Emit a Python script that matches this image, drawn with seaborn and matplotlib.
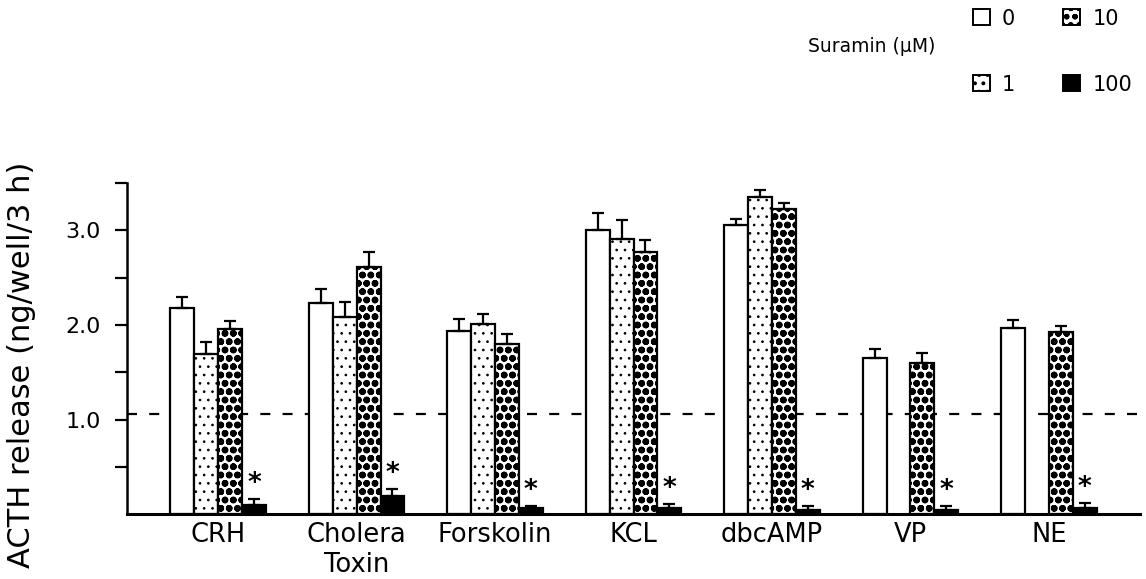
import numpy as np
import pandas as pd
import matplotlib
matplotlib.use("Agg")
import matplotlib.pyplot as plt
import matplotlib.patches as mpatches
import seaborn as sns

# ---- data ----
categories = ["CRH", "Cholera\nToxin", "Forskolin", "KCL", "dbcAMP", "VP", "NE"]
doses = ["0", "1", "10", "100"]
mean_0 = [2.18, 2.23, 1.94, 3.00, 3.06, 1.65, 1.97]
mean_1 = [1.69, 2.08, 2.01, 2.91, 3.35, np.nan, np.nan]
mean_10 = [1.96, 2.61, 1.80, 2.77, 3.22, 1.60, 1.93]
mean_100 = [0.10, 0.19, 0.06, 0.06, 0.04, 0.04, 0.07]
sem_0 = [0.11, 0.15, 0.12, 0.18, 0.06, 0.10, 0.08]
sem_1 = [0.13, 0.16, 0.10, 0.20, 0.08, np.nan, np.nan]
sem_10 = [0.08, 0.16, 0.10, 0.13, 0.07, 0.10, 0.06]
sem_100 = [0.06, 0.08, 0.03, 0.05, 0.05, 0.05, 0.05]
control_level = 1.06
yticks_major = [1.0, 2.0, 3.0]
yticks_minor = [0.5, 1.5, 2.5, 3.5]

means = {"0": mean_0, "1": mean_1, "10": mean_10, "100": mean_100}
sems = {"0": sem_0, "1": sem_1, "10": sem_10, "100": sem_100}
rows = []
for d in doses:
    for c, m, s in zip(categories, means[d], sems[d]):
        rows.append({"stim": c, "dose": d, "mean": m, "sem": s})
df = pd.DataFrame(rows)

sns.set_theme(style="ticks")
plt.rcParams["font.family"] = ["DejaVu Sans"]
plt.rcParams["text.color"] = "black"
plt.rcParams["xtick.color"] = "black"
plt.rcParams["ytick.color"] = "black"
plt.rcParams["xtick.labelcolor"] = "black"
plt.rcParams["ytick.labelcolor"] = "black"
plt.rcParams["hatch.linewidth"] = 1.6

fig = plt.figure(figsize=(11.46, 5.79), dpi=100)
ax = fig.add_axes([0.111, 0.112, 0.884, 0.572])

palette = {"0": "white", "1": "white", "10": "white", "100": "black"}
sns.barplot(data=df, x="stim", y="mean", hue="dose", hue_order=doses,
            order=categories, palette=palette, errorbar=None, width=0.69,
            gap=0, dodge=True, edgecolor="black", linewidth=1.6,
            legend=False, ax=ax, zorder=2)

hatches = {"0": "", "1": "..", "10": "oo", "100": ""}
hatch_lw = {"0": 1.0, "1": 0.7, "10": 2.4, "100": 1.0}


def style_patch(p, d):
    p.set_hatch(hatches[d])
    try:
        p.set_hatch_linewidth(hatch_lw[d])
    except Exception:
        pass


patches = [p for p in ax.patches]
k = 0
bar_info = []
for d in doses:
    for i, c in enumerate(categories):
        m = means[d][i]
        if np.isnan(m):
            continue
        p = patches[k]
        k += 1
        style_patch(p, d)
        xc = p.get_x() + p.get_width() / 2
        bar_info.append((xc, m, sems[d][i], d))

for xc, m, s, d in bar_info:
    ax.errorbar([xc], [m], yerr=[[0], [s]], fmt="none", ecolor="black",
                elinewidth=1.6, capsize=4.5, capthick=1.6, zorder=3)
    if d == "100":
        ax.text(xc, m + s + 0.02, "*", ha="center", va="bottom",
                fontsize=19, fontweight="bold", color="black")

ax.axhline(control_level, color="black", lw=1.6, ls=(0, (4.5, 5.5)), zorder=1)

ax.set_ylim(0, 3.5)
ax.set_xlim(-0.657, 6.66)
ax.set_yticks(yticks_major)
ax.set_yticklabels(["1.0", "2.0", "3.0"])
ax.set_yticks(yticks_minor, minor=True)
ax.tick_params(axis="y", which="both", direction="out", length=9, width=1.6,
               pad=10, labelsize=16, color="black", labelcolor="black")
ax.tick_params(axis="x", length=0, labelsize=18.5, pad=6, labelcolor="black")
ax.set_xlabel("")
ax.set_ylabel("")
for side in ["top", "right"]:
    ax.spines[side].set_visible(False)
ax.spines["left"].set_linewidth(1.8)
ax.spines["bottom"].set_linewidth(2.2)
ax.spines["left"].set_color("black")
ax.spines["bottom"].set_color("black")
ax.patch.set_alpha(0)

fig.text(0.019, 0.37, "ACTH release (ng/well/3 h)", rotation=90,
         ha="center", va="center", fontsize=22, color="black")

handles = []
for d in doses:
    h = mpatches.Patch(facecolor=palette[d], edgecolor="black",
                       hatch=hatches[d], linewidth=1.4)
    try:
        h.set_hatch_linewidth(hatch_lw[d])
    except Exception:
        pass
    handles.append(h)
fig.legend(handles, doses, ncol=2, loc="upper left",
           bbox_to_anchor=(0.849, 0.985), frameon=False, fontsize=15,
           handlelength=0.8, handleheight=0.8, handletextpad=0.6,
           labelspacing=2.2, columnspacing=2.3, borderpad=0, borderaxespad=0)
fig.text(0.705, 0.92, "Suramin (μM)", ha="left", va="center", fontsize=13.5,
         color="black")

fig.savefig("out.png", dpi=100)
